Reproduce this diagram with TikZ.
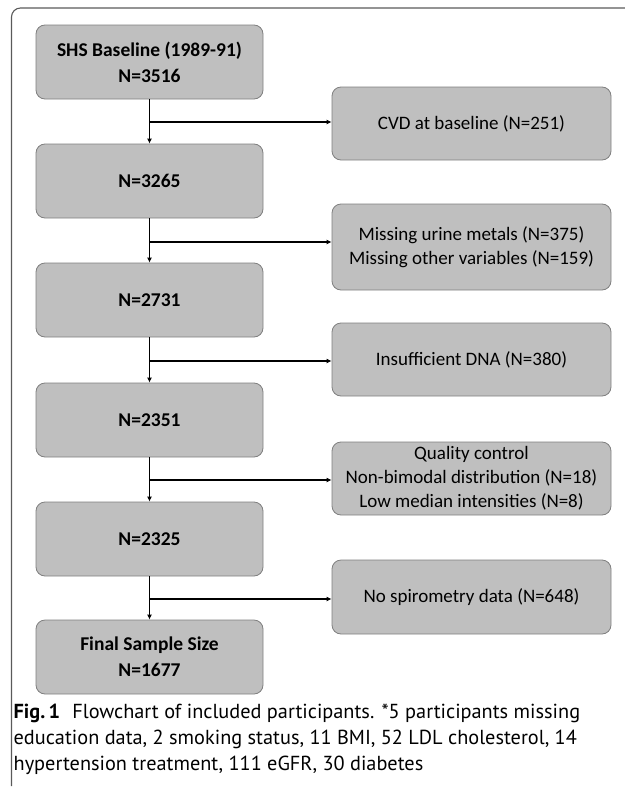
\documentclass[tikz,border=0pt]{standalone}
\usepackage{fontspec}
\setmainfont{Carlito}
\newfontfamily\capfont{PT Sans}
\usetikzlibrary{arrows.meta}
\definecolor{boxfill}{HTML}{BFBFBF}
\definecolor{boxline}{HTML}{7F7F7F}
\definecolor{framecol}{HTML}{5A5A5A}
\begin{document}
\begin{tikzpicture}[x=1pt,y=-1pt,line width=1.3pt,>={Latex[length=5pt,width=5pt]},
  line cap=butt,line join=miter,
  stage/.style={draw=boxline,fill=boxfill,line width=.8pt,rounded corners=9pt,
    minimum width=227pt,minimum height=74pt,inner sep=0pt,align=center,
    font=\bfseries\fontsize{19.5}{26}\selectfont},
  drop/.style={draw=boxline,fill=boxfill,line width=.8pt,rounded corners=9pt,
    minimum width=279pt,minimum height=73pt,inner sep=0pt,align=center,
    font=\fontsize{19}{24}\selectfont}]
  \useasboundingbox (0,0) rectangle (624,787);
  % frame
  \draw[framecol,line width=1.1pt,rounded corners=9pt] (11.5,786)--(11.5,8)--(625,8);
  % main column
  \node[stage] (s0) at (149.5,62) {SHS Baseline (1989-91)\\N=3516};
  \node[stage] (s1) at (149.5,181) {N=3265};
  \node[stage] (s2) at (149.5,300) {N=2731};
  \node[stage] (s3) at (149.5,420) {N=2351};
  \node[stage] (s4) at (149.5,539) {N=2325};
  \node[stage] (s5) at (149.5,657) {Final Sample Size\\N=1677};
  % exclusions
  \node[drop] (x1) at (471.5,123.5) {CVD at baseline (N=251)};
  \node[drop,minimum height=86pt] (x2) at (471.5,247) {Missing urine metals (N=375)\\Missing other variables (N=159)};
  \node[drop] (x3) at (471.5,359.5) {Insufficient DNA (N=380)};
  \node[drop] (x4) at (471.5,478.5) {Quality control\\Non-bimodal distribution (N=18)\\Low median intensities (N=8)};
  \node[drop,minimum height=74pt] (x5) at (471.5,597) {No spirometry data (N=648)};
  % branch points
  \coordinate (j1) at (150,122);
  \coordinate (j2) at (150,242);
  \coordinate (j3) at (150,361);
  \coordinate (j4) at (150,480);
  \coordinate (j5) at (150,599);
  \draw[->] (s0)--(s1);
  \draw[->] (s1)--(s2);
  \draw[->] (s2)--(s3);
  \draw[->] (s3)--(s4);
  \draw[->] (s4)--(s5);
  \draw[->] (j1)--(j1-|x1.west);
  \draw[->] (j2)--(j2-|x2.west);
  \draw[->] (j3)--(j3-|x3.west);
  \draw[->] (j4)--(j4-|x4.west);
  \draw[->] (j5)--(j5-|x5.west);
  % caption
  \node[anchor=north west,inner sep=0pt,align=left,
    font=\capfont\fontsize{20.3}{26}\selectfont] (cap) at (13,703)
    {\textbf{Fig.\,1}\hspace{.6em}Flowchart of included participants. *5 participants missing\\
     education data, 2 smoking status, 11 BMI, 52 LDL cholesterol, 14\\
     hypertension treatment, 111 eGFR, 30 diabetes};
\end{tikzpicture}
\end{document}
